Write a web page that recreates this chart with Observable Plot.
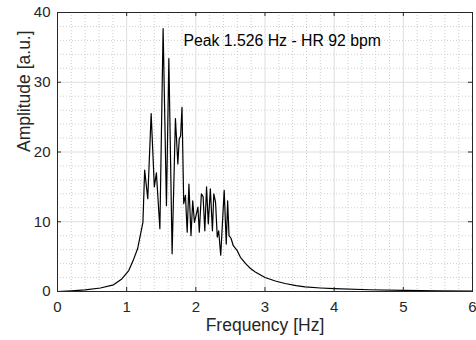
<!DOCTYPE html>
<html><head><meta charset="utf-8">
<script src="https://cdn.jsdelivr.net/npm/d3@7"></script>
<script src="https://cdn.jsdelivr.net/npm/@observablehq/plot@0.6"></script>
<style>body{margin:0;background:#fff;}</style>
</head><body><div id="chart"></div>
<script>
const freq = [0.00,0.20,0.40,0.62,0.81,0.93,1.03,1.10,1.16,1.20,1.235,1.26,1.305,1.354,1.40,1.43,1.48,1.527,1.575,1.61,1.657,1.705,1.74,1.76,1.78,1.80,1.825,1.85,1.875,1.90,1.93,1.955,1.98,2.03,2.05,2.08,2.105,2.13,2.155,2.18,2.21,2.24,2.26,2.285,2.31,2.33,2.36,2.41,2.44,2.46,2.48,2.51,2.54,2.595,2.645,2.72,2.79,2.86,2.93,3.00,3.15,3.29,3.45,3.58,3.80,4.00,4.50,5.00,5.50,6.00];
const amp  = [0,0.1,0.24,0.5,0.96,1.8,3.0,4.6,6.2,8.2,9.9,17.4,13.3,25.5,15.0,17.0,9.0,37.7,12.3,33.4,5.4,24.8,18.3,21.9,22.3,26.4,12.6,13.8,8.5,15.4,8.0,13.0,9.9,12.1,8.5,14.0,13.6,8.7,15.0,9.7,14.7,8.7,14.0,12.8,7.8,8.7,5.2,14.5,6.8,13.0,8.0,7.6,6.6,5.9,4.9,4.0,3.3,2.8,2.4,2.0,1.5,1.15,0.85,0.65,0.5,0.4,0.25,0.15,0.08,0.05];
const xTicks = [0,1,2,3,4,5,6];
const yTicks = [0,10,20,30,40];
const xMinor = [0.2,0.4,0.6,0.8,1.2,1.4,1.6,1.8,2.2,2.4,2.6,2.8,3.2,3.4,3.6,3.8,4.2,4.4,4.6,4.8,5.2,5.4,5.6,5.8];
const yMinor = [2,4,6,8,12,14,16,18,22,24,26,28,32,34,36,38];
const xLabel = "Frequency [Hz]";
const yLabel = "Amplitude [a.u.]";
const annotation = [{x: 1.82, y: 35.9, text: "Peak 1.526 Hz - HR 92 bpm"}];

const data = freq.map((f, i) => ({f, a: amp[i]}));
const ink = "#262626";
const W = 476, H = 340, ML = 57, MR = 4, MT = 12, MB = 49;
const fw = W - ML - MR, fh = H - MT - MB;

const chart = Plot.plot({
  width: W, height: H,
  marginLeft: ML, marginRight: MR, marginTop: MT, marginBottom: MB,
  x: {domain: [0, 6]},
  y: {domain: [0, 40]},
  style: {fontFamily: "'Liberation Sans', Arial, Helvetica, sans-serif", fontSize: "15px", color: ink, background: "#fff"},
  marks: [
    Plot.gridX(xMinor, {stroke: "#cfcfcf", strokeOpacity: 1, strokeDasharray: "1,2"}),
    Plot.gridY(yMinor, {stroke: "#cfcfcf", strokeOpacity: 1, strokeDasharray: "1,2"}),
    Plot.gridX(xTicks, {stroke: "#dedede", strokeOpacity: 1}),
    Plot.gridY(yTicks, {stroke: "#dedede", strokeOpacity: 1}),
    Plot.line(data, {x: "f", y: "a", stroke: "#000", strokeWidth: 1.2}),
    Plot.frame({stroke: ink}),
    Plot.tickX(xTicks, {x: d => d, stroke: ink, insetTop: fh - 4}),
    Plot.tickX(xTicks, {x: d => d, stroke: ink, insetBottom: fh - 4}),
    Plot.tickY(yTicks, {y: d => d, stroke: ink, insetRight: fw - 4}),
    Plot.tickY(yTicks, {y: d => d, stroke: ink, insetLeft: fw - 4}),
    Plot.axisX(xTicks, {tickSize: 0, tickPadding: 10, label: null, fontSize: 15, fill: ink}),
    Plot.axisY(yTicks, {tickSize: 0, tickPadding: 7, label: null, fontSize: 15, fill: ink}),
    Plot.text([xLabel], {frameAnchor: "bottom", dy: 39.5, fontSize: 17.5, fill: ink}),
    Plot.text([yLabel], {frameAnchor: "left", rotate: -90, dx: -33, fontSize: 17.5, fill: ink}),
    Plot.text(annotation, {x: "x", y: "y", text: "text", textAnchor: "start", fontSize: 15.8, fill: "#000"})
  ]
});
document.getElementById("chart").appendChild(chart);
</script>
</body></html>
